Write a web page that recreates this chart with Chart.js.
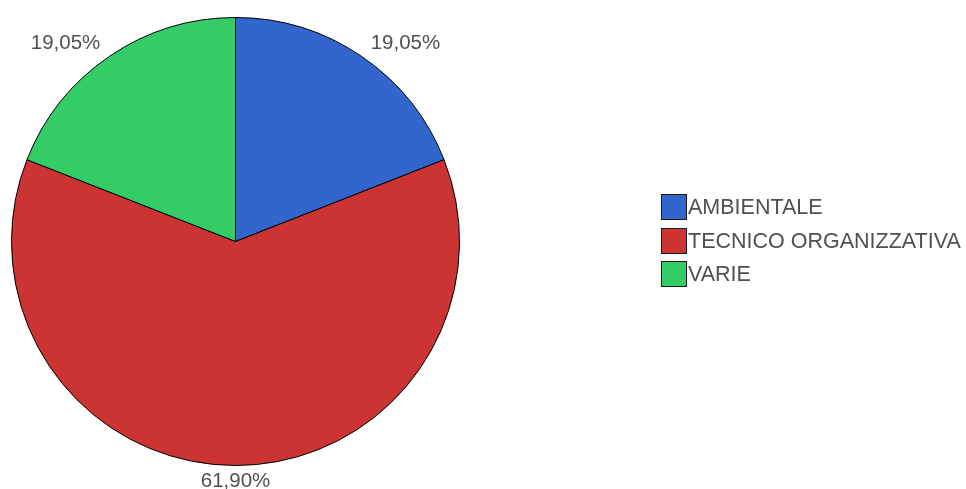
<!DOCTYPE html>
<html>
<head>
<meta charset="utf-8">
<script src="https://cdn.jsdelivr.net/npm/chart.js@4/dist/chart.umd.min.js"></script>
<style>
  html, body { margin: 0; padding: 0; background: #ffffff; }
  #wrap { width: 966px; height: 489px; position: relative; }
</style>
</head>
<body>
<div id="wrap"><canvas id="c" width="966" height="489"></canvas></div>
<script>
const categories = ['AMBIENTALE', 'TECNICO ORGANIZZATIVA', 'VARIE'];
const percentages = [19.05, 61.90, 19.05];
const sliceColors = ['#3366CC', '#CC3333', '#33CC66'];

const FONT = '"Liberation Sans", Arial, Helvetica, sans-serif';
const TEXT_COLOR = '#505050';

function fmtPct(v) {
  return v.toFixed(2).replace('.', ',') + '%';
}

const outsideLabels = {
  id: 'outsideLabels',
  afterDatasetsDraw(chart) {
    const ctx = chart.ctx;
    const meta = chart.getDatasetMeta(0);
    ctx.save();
    ctx.font = '20.5px ' + FONT;
    ctx.fillStyle = TEXT_COLOR;
    ctx.textBaseline = 'middle';
    meta.data.forEach((arc, i) => {
      const p = arc.getProps(['x', 'y', 'startAngle', 'endAngle', 'outerRadius'], true);
      const mid = (p.startAngle + p.endAngle) / 2;
      const r = p.outerRadius + 16;
      const ax = p.x + Math.cos(mid) * r;
      const ay = p.y + Math.sin(mid) * r;
      const c = Math.cos(mid);
      ctx.textAlign = Math.abs(c) < 0.05 ? 'center' : (c > 0 ? 'left' : 'right');
      ctx.fillText(fmtPct(chart.data.datasets[0].data[i]), ax, ay);
    });
    ctx.restore();
  }
};

const sideLegend = {
  id: 'sideLegend',
  afterDraw(chart) {
    const ctx = chart.ctx;
    const x0 = 661, y0 = 194, box = 26, step = 33.5;
    ctx.save();
    ctx.font = '21.5px ' + FONT;
    ctx.textBaseline = 'middle';
    ctx.textAlign = 'left';
    chart.data.labels.forEach((lab, i) => {
      const y = Math.round(y0 + i * step);
      ctx.fillStyle = chart.data.datasets[0].backgroundColor[i];
      ctx.fillRect(x0, y, box, box);
      ctx.strokeStyle = '#1a1a1a';
      ctx.lineWidth = 1;
      ctx.strokeRect(x0 + 0.5, y + 0.5, box - 1, box - 1);
      ctx.fillStyle = TEXT_COLOR;
      ctx.fillText(lab, x0 + box + 1, y + box / 2 + 1);
    });
    ctx.restore();
  }
};

new Chart(document.getElementById('c'), {
  type: 'pie',
  data: {
    labels: categories,
    datasets: [{
      data: percentages,
      backgroundColor: sliceColors,
      borderColor: '#000000',
      borderWidth: 1,
      hoverOffset: 0,
      offset: 0
    }]
  },
  options: {
    responsive: false,
    animation: false,
    events: [],
    layout: { padding: { left: 11, top: 17, right: 506, bottom: 23 } },
    plugins: {
      legend: { display: false },
      tooltip: { enabled: false }
    }
  },
  plugins: [outsideLabels, sideLegend]
});
</script>
</body>
</html>
